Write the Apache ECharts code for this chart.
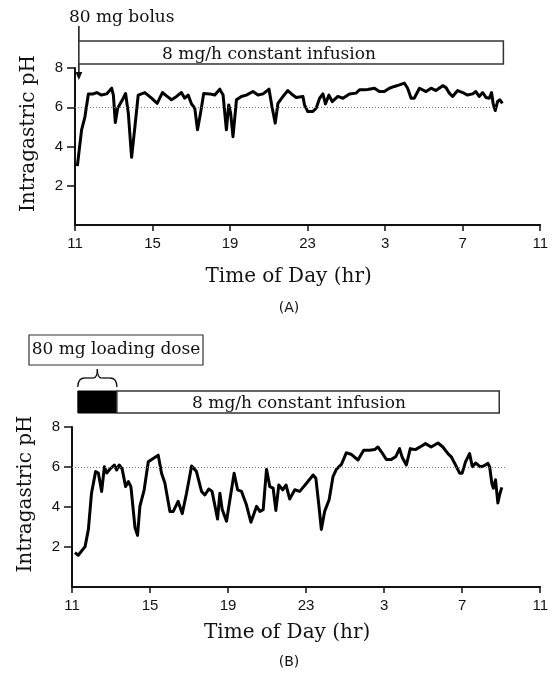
<!DOCTYPE html>
<html>
<head>
<meta charset="utf-8">
<script src="https://cdn.jsdelivr.net/npm/echarts@6/dist/echarts.min.js"></script>
<style>html,body{margin:0;padding:0;background:#fff}#c{width:551px;height:674px}</style>
</head>
<body>
<div id="c"></div>
<script>
// x values are hours elapsed since 11:00
const tickLabels = ['11', '15', '19', '23', '3', '7', '11'];
const yTicks = [2, 4, 6, 8];
const thresholdPH = 6;

const timeA = [0.12, 0.34, 0.51, 0.69, 0.94, 1.12, 1.37, 1.63, 1.89, 1.98,
  2.08, 2.2, 2.49, 2.61, 2.75, 2.92, 3.09, 3.26, 3.6, 3.95,
  4.24, 4.51, 4.72, 4.98, 5.24, 5.49, 5.66, 5.84, 6.01, 6.18,
  6.32, 6.49, 6.64, 6.95, 7.21, 7.47, 7.64, 7.81, 7.93, 8.03,
  8.15, 8.33, 8.58, 8.84, 9.18, 9.44, 9.7, 10.01, 10.16, 10.33,
  10.47, 10.73, 10.98, 11.24, 11.41, 11.76, 11.84, 12.01, 12.27, 12.44,
  12.62, 12.79, 12.92, 13.1, 13.27, 13.56, 13.82, 14.16, 14.5, 14.68,
  14.93, 15.1, 15.45, 15.7, 15.96, 16.22, 16.48, 16.74, 16.99, 17.16,
  17.34, 17.5, 17.77, 18.11, 18.37, 18.62, 18.97, 19.14, 19.31, 19.48,
  19.74, 20.0, 20.25, 20.51, 20.68, 20.85, 21.03, 21.2, 21.37, 21.49,
  21.57, 21.68, 21.8, 21.92, 22.05];
const phA = [3.0, 4.85, 5.5, 6.68, 6.68, 6.75, 6.62, 6.68, 6.97, 6.62,
  5.22, 5.95, 6.46, 6.7, 5.7, 3.45, 5.0, 6.62, 6.75, 6.46,
  6.2, 6.75, 6.58, 6.38, 6.55, 6.75, 6.46, 6.62, 6.17, 5.95,
  4.85, 5.78, 6.7, 6.68, 6.62, 6.92, 6.62, 4.85, 6.12, 5.7,
  4.5, 6.38, 6.55, 6.62, 6.8, 6.62, 6.68, 6.92, 6.04, 5.19,
  6.2, 6.55, 6.85, 6.62, 6.5, 6.55, 6.12, 5.78, 5.78, 5.95,
  6.46, 6.68, 6.17, 6.62, 6.29, 6.55, 6.46, 6.68, 6.72, 6.89,
  6.89, 6.9, 6.97, 6.8, 6.8, 6.97, 7.06, 7.14, 7.23, 6.97,
  6.46, 6.46, 6.97, 6.8, 6.97, 6.85, 7.1, 7.0, 6.72, 6.55,
  6.85, 6.75, 6.62, 6.68, 6.8, 6.55, 6.75, 6.5, 6.46, 6.75,
  6.2, 5.83, 6.29, 6.38, 6.2];

const timeB = [0.15, 0.32, 0.67, 0.84, 1.0, 1.21, 1.35, 1.52, 1.66, 1.78,
  1.95, 2.17, 2.29, 2.42, 2.57, 2.75, 2.89, 3.02, 3.23, 3.36,
  3.48, 3.7, 3.91, 4.16, 4.42, 4.59, 4.76, 5.02, 5.19, 5.44,
  5.65, 5.87, 6.13, 6.38, 6.64, 6.81, 7.01, 7.18, 7.46, 7.58,
  7.7, 7.92, 8.12, 8.31, 8.49, 8.69, 8.94, 9.17, 9.46, 9.63,
  9.8, 9.97, 10.14, 10.31, 10.45, 10.6, 10.8, 10.97, 11.16, 11.42,
  11.67, 12.02, 12.36, 12.5, 12.66, 12.78, 12.95, 13.18, 13.38, 13.55,
  13.81, 14.06, 14.3, 14.66, 14.95, 15.26, 15.51, 15.68, 15.86, 16.11,
  16.37, 16.59, 16.79, 16.93, 17.14, 17.34, 17.6, 17.9, 18.12, 18.41,
  18.76, 19.01, 19.27, 19.44, 19.66, 19.87, 20.0, 20.17, 20.38, 20.52,
  20.69, 20.93, 21.1, 21.32, 21.41, 21.52, 21.6, 21.71, 21.83, 21.92,
  22.03];
const phB = [1.72, 1.59, 2.02, 2.88, 4.69, 5.77, 5.7, 4.78, 6.01, 5.7,
  5.9, 6.1, 5.85, 6.1, 5.9, 5.02, 5.27, 5.02, 2.96, 2.58,
  4.03, 4.86, 6.26, 6.43, 6.59, 5.69, 5.2, 3.78, 3.78, 4.28,
  3.67, 4.69, 6.05, 5.77, 4.78, 4.6, 4.9, 4.78, 3.4, 4.69,
  3.87, 3.29, 4.52, 5.69, 4.86, 4.78, 4.11, 3.24, 4.03, 3.78,
  3.87, 5.88, 5.02, 4.94, 3.83, 5.1, 4.86, 5.1, 4.4, 4.86,
  4.78, 5.19, 5.6, 5.44, 4.03, 2.88, 3.78, 4.36, 5.52, 5.88,
  6.13, 6.71, 6.64, 6.35, 6.84, 6.84, 6.87, 7.0, 6.76, 6.38,
  6.38, 6.51, 6.92, 6.47, 6.1, 6.92, 6.87, 7.04, 7.17, 7.0,
  7.2, 7.0, 6.67, 6.51, 6.1, 5.69, 5.69, 6.26, 6.67, 6.01,
  6.2, 6.01, 6.05, 6.18, 6.0, 5.19, 4.94, 5.36, 4.2, 4.61,
  4.98];

// annotation timings (hours since 11:00)
const bolusTimeA = 0.2;
const infusionA = [0.2, 22.1];
const loadingB = [0.3, 2.3];
const infusionB = [2.3, 21.9];
const thresholdEndA = 21.8;
const thresholdEndB = 22.2;

const SERIF = 'DejaVu Serif';
const SANS = 'Liberation Sans';
const INK = '#111';

function zip(t, v) { return t.map((x, i) => [x, v[i]]); }

function xAxis(gridIndex, nameGap) {
  return {
    type: 'value', gridIndex: gridIndex, min: 0, max: 24, interval: 4,
    name: 'Time of Day (hr)', nameLocation: 'middle', nameGap: nameGap,
    nameTextStyle: { fontFamily: SERIF, fontSize: 20, color: INK, padding: [0, 38, 0, 0] },
    axisLine: { show: true, onZero: false, lineStyle: { color: INK, width: 2 } },
    axisTick: { show: true, length: 6, lineStyle: { color: INK, width: 1.5 } },
    axisLabel: {
      margin: 11, fontFamily: SANS, fontSize: 15, color: INK,
      formatter: function (v) { return tickLabels[Math.round(v / 4)]; }
    },
    splitLine: { show: false }
  };
}
function yAxis(gridIndex) {
  return {
    type: 'value', gridIndex: gridIndex, min: 0, max: 8, interval: 2,
    name: 'Intragastric pH', nameLocation: 'middle', nameGap: 36,
    nameTextStyle: { fontFamily: SERIF, fontSize: 20, color: INK, padding: [0, 0, 0, 26] },
    axisLine: { show: true, onZero: false, lineStyle: { color: INK, width: 2 } },
    axisTick: { show: true, length: 8, customValues: yTicks, lineStyle: { color: INK, width: 1.5 } },
    axisLabel: { margin: 12, fontFamily: SANS, fontSize: 15, color: INK, customValues: yTicks },
    splitLine: { show: false }
  };
}
function series(idx, t, v, endT) {
  return {
    type: 'line', xAxisIndex: idx, yAxisIndex: idx, data: zip(t, v),
    showSymbol: false, symbol: 'none', smooth: false, animation: false,
    lineStyle: { color: '#000', width: 3, join: 'round' },
    markLine: {
      silent: true, symbol: 'none', animation: false, label: { show: false },
      lineStyle: { color: '#777', type: [1, 2], width: 1 },
      data: [[{ coord: [0, thresholdPH] }, { coord: [endT, thresholdPH] }]]
    }
  };
}

const chart = echarts.init(document.getElementById('c'), null, { renderer: 'canvas' });
chart.setOption({
  backgroundColor: '#fff',
  animation: false,
  grid: [
    { left: 75, right: 10, top: 68, height: 157 },
    { left: 72, right: 10, top: 427, height: 160 }
  ],
  xAxis: [xAxis(0, 42), xAxis(1, 36)],
  yAxis: [yAxis(0), yAxis(1)],
  series: [series(0, timeA, phA, thresholdEndA), series(1, timeB, phB, thresholdEndB)]
});

function px(idx, t) { return chart.convertToPixel({ xAxisIndex: idx, yAxisIndex: idx }, [t, 0])[0]; }

const bx = px(0, bolusTimeA);
const a0 = px(0, infusionA[0]), a1 = px(0, infusionA[1]);
const l0 = px(1, loadingB[0]), l1 = px(1, loadingB[1]);
const b1 = px(1, infusionB[1]);
const mid = (l0 + l1) / 2;
const txt = (x, y, s, size, fam, align) => ({
  type: 'text', x: x, y: y,
  style: { text: s, fill: INK, font: size + 'px "' + fam + '"', textAlign: align || 'center', textVerticalAlign: 'middle' }
});
const braceStyle = { fill: 'none', stroke: INK, lineWidth: 1.3 };
const curve = (x1, y1, cx, cy, x2, y2) => ({ type: 'bezierCurve', shape: { x1: x1, y1: y1, x2: x2, y2: y2, cpx1: cx, cpy1: cy }, style: braceStyle });
const seg = (x1, y1, x2, y2) => ({ type: 'line', shape: { x1: x1, y1: y1, x2: x2, y2: y2 }, style: braceStyle });

chart.setOption({
  graphic: [
    // Panel A annotations
    txt(bx - 10, 18, '80 mg bolus', 17, SERIF, 'left'),
    { type: 'line', shape: { x1: bx, y1: 26, x2: bx, y2: 74 }, style: { stroke: INK, lineWidth: 1.5 } },
    { type: 'polygon', shape: { points: [[bx - 3.5, 72], [bx + 3.5, 72], [bx, 80]] }, style: { fill: INK } },
    { type: 'rect', shape: { x: a0, y: 41, width: a1 - a0, height: 23 }, style: { fill: '#fff', stroke: '#333', lineWidth: 1.5 } },
    txt(269, 55, '8 mg/h constant infusion', 17, SERIF),
    txt(289, 308, '(A)', 14, 'DejaVu Sans'),
    // Panel B annotations
    { type: 'rect', shape: { x: 29, y: 335, width: 174, height: 30 }, style: { fill: '#fff', stroke: '#333', lineWidth: 1.2 } },
    txt(116, 350, '80 mg loading dose', 17, SERIF),
    curve(l0, 387, l0, 378, l0 + 7, 378),
    seg(l0 + 7, 378, mid - 4, 378),
    curve(mid - 4, 378, mid, 378, mid, 369),
    curve(mid, 369, mid, 378, mid + 4, 378),
    seg(mid + 4, 378, l1 - 7, 378),
    curve(l1 - 7, 378, l1, 378, l1, 387),
    { type: 'rect', shape: { x: l0, y: 391, width: l1 - l0, height: 22 }, style: { fill: '#000', stroke: '#000', lineWidth: 1 } },
    { type: 'rect', shape: { x: l1, y: 391, width: b1 - l1, height: 22 }, style: { fill: '#fff', stroke: '#333', lineWidth: 1.5 } },
    txt(299, 404, '8 mg/h constant infusion', 17, SERIF),
    txt(289, 662, '(B)', 14, 'DejaVu Sans')
  ]
});
</script>
</body>
</html>
